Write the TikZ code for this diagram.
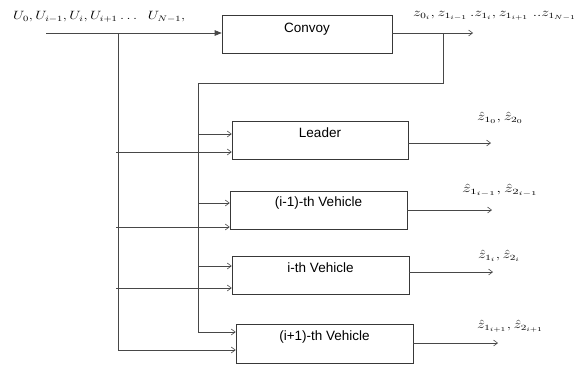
\documentclass[tikz,border=0pt]{standalone}
\usepackage{fontspec}
\setsansfont{Liberation Sans}
\usetikzlibrary{arrows.meta,calc}
\newcommand{\fitw}[2]{\resizebox{#1}{\height}{#2}}
\begin{document}
\begin{tikzpicture}[x=1pt,y=-1pt,
  ln/.style={draw=black!72, line width=0.6pt},
  arr/.style={ln, -{Straight Barb[length=4pt,width=6pt]}},
  farr/.style={ln, -{Triangle[length=7pt,width=5.5pt]}},
  box/.style={draw=black!78, line width=0.6pt, minimum width=177pt, minimum height=38pt, inner sep=0pt},
  boxtext/.style={font=\sffamily\fontsize{13.5}{15}\selectfont, inner sep=0pt, anchor=north, yshift=-7pt},
  mlbl/.style={inner sep=0pt, anchor=west, font=\fontsize{11.5}{13}\selectfont}]
\useasboundingbox (0,0) rectangle (583,365);
% boxes
\node[box, minimum width=170pt, label={[boxtext, yshift=-1pt]north:Convoy}] (convoy) at (307,34) {};
\node[box, minimum width=176pt, label={[boxtext]north:Leader}] (leader) at (320,140) {};
\node[box, label={[boxtext, yshift=1pt]north:(i-1)-th Vehicle}] (vprev) at (318.5,210) {};
\node[box, label={[boxtext]north:i-th Vehicle}] (vcur) at (320.5,275) {};
\node[box, minimum height=39pt, label={[boxtext]north:(i+1)-th Vehicle}] (vnext) at (324.5,343.5) {};
% labels
\node[mlbl] (ulbl) at (13,17) {\fitw{172pt}{$U_0, U_{i-1}, U_i, U_{i+1} \ldots\;\; U_{N-1},$}};
\node[mlbl] (zlbl) at (413,16) {\fitw{163pt}{$z_{0_i}, z_{1_{i-1}}\,.z_{1_i}, z_{1_{i+1}}\;..z_{1_{N-1}}$}};
\node[mlbl] (l0) at (477,118) {\fitw{46pt}{$\hat{z}_{1_0}, \hat{z}_{2_0}$}};
\node[mlbl] (l1) at (462,190) {\fitw{76pt}{$\hat{z}_{1_{i-1}}, \hat{z}_{2_{i-1}}$}};
\node[mlbl] (l2) at (478,256) {\fitw{42pt}{$\hat{z}_{1_i}, \hat{z}_{2_i}$}};
\node[mlbl] (l3) at (477,326) {\fitw{66pt}{$\hat{z}_{1_{i+1}}, \hat{z}_{2_{i+1}}$}};
% coordinates
\coordinate (in) at (46,33);
\coordinate (t1) at (118,33);
\coordinate (t1b) at (118,350);
\coordinate (zend) at (473,33);
\coordinate (fb) at (443,33);
\coordinate (fbc) at (443,83);
\coordinate (t2) at (198,83);
\coordinate (t2b) at (198,332);
\coordinate (o0) at (491,143);
\coordinate (o1) at (492,210);
\coordinate (o2) at (493,272);
\coordinate (o3) at (498,343);
% main input and convoy output
\draw[farr] (in) -- (convoy.west |- in);
\draw[arr] (convoy.east |- zend) -- (zend);
\draw[ln] (fb) -- (fbc) -- (t2) -- (t2b);
\draw[ln] (t1) -- (t1b);
% upper arrows from trunk 2
\draw[arr] (t2 |- 0,134) -- (leader.west |- 0,134);
\draw[arr] (t2 |- 0,203) -- (vprev.west |- 0,203);
\draw[arr] (t2 |- 0,266) -- (vcur.west |- 0,266);
\draw[arr] (t2b) -- (vnext.west |- t2b);
% lower arrows from trunk 1
\draw[arr] (116,152) -- (leader.west |- 0,152);
\draw[arr] (116,227) -- (vprev.west |- 0,227);
\draw[arr] (116,288) -- (vcur.west |- 0,288);
\draw[arr] (t1b) -- (vnext.west |- t1b);
% outputs
\draw[arr] (leader.east |- o0) -- (o0);
\draw[arr] (vprev.east |- o1) -- (o1);
\draw[arr] (vcur.east |- o2) -- (o2);
\draw[arr] (vnext.east |- o3) -- (o3);
\end{tikzpicture}
\end{document}
